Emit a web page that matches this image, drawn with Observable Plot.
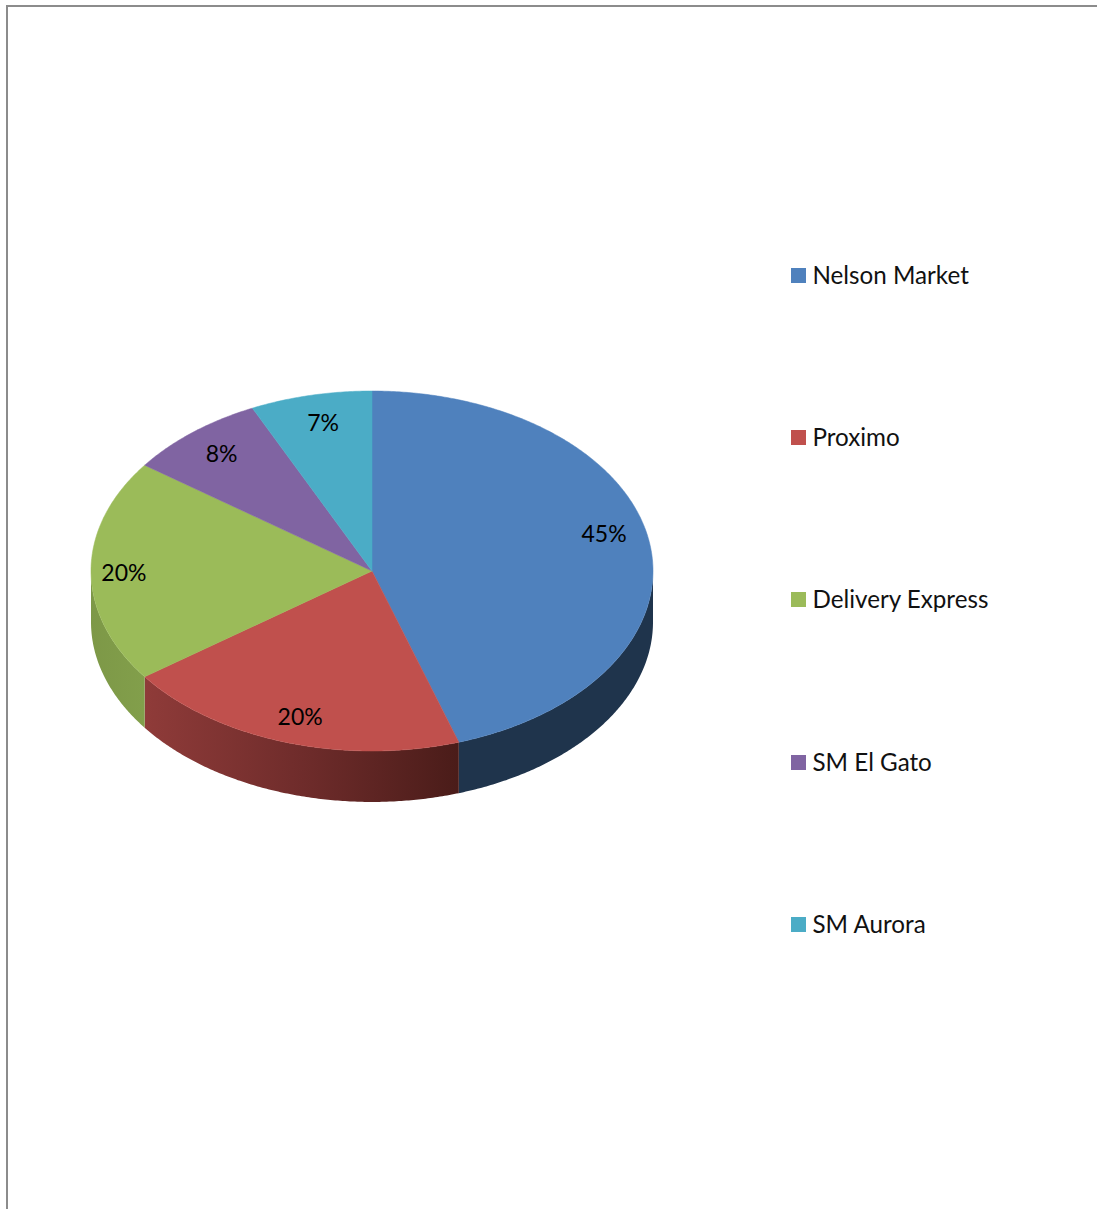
<!DOCTYPE html>
<html>
<head>
<meta charset="utf-8">
<script src="https://cdn.jsdelivr.net/npm/d3@7"></script>
<script src="https://cdn.jsdelivr.net/npm/@observablehq/plot@0.6"></script>
<style>
  html, body { margin: 0; padding: 0; background: #fff; overflow: hidden; }
  #chart { position: relative; width: 1097px; height: 1209px; font-family: Lato, "Open Sans", sans-serif; }
  #chart svg { display: block; position: absolute; left: 0; top: 0; }
  #legend { position: absolute; left: 791px; top: 194.5px; }
  .entry { display: flex; align-items: center; height: 162.2px; font-size: 24.2px; color: #111; white-space: nowrap; }
  .entry .name { position: relative; top: -1px; }
  .swatch { width: 15px; height: 15px; margin-right: 6.5px; flex: none; }
</style>
</head>
<body>
<div id="chart"></div>
<script>
// Shares of each delivery service, clockwise from twelve o'clock.
const names = ["Nelson Market", "Proximo", "Delivery Express", "SM El Gato", "SM Aurora"];
const shares = [45, 20, 20, 8, 7];
const colors = ["#4F81BD", "#C0504D", "#9BBB59", "#8064A2", "#4BACC6"];

// Hand placement of the percent labels relative to the radial default, in disc units.
const labelNudgeX = [-0.004, 0.004, -0.043, 0, 0.009];
const labelNudgeY = [0.069, -0.018, -0.017, 0, 0];

const labelRadius = 0.84;
const wallDepth = 0.283; // thickness of the disc, in disc units
const TAU = Math.PI * 2;

const rim = (t) => ({x: Math.sin(t), y: Math.cos(t)});
const arc = (a, b) => {
  const n = Math.max(2, Math.ceil(Math.abs(b - a) / (TAU / 720)));
  return d3.range(n + 1).map((i) => rim(a + (b - a) * i / n));
};

// Cumulative sweep of each slice.
let running = 0;
const slices = names.map((name, i) => {
  const start = running / 100 * TAU;
  running += shares[i];
  const end = running / 100 * TAU;
  return {name, share: shares[i], start, end, mid: (start + end) / 2, i};
});

// Top face: one closed polygon per slice.
const topFace = slices.flatMap((s) =>
  [{x: 0, y: 0}, ...arc(s.start, s.end), {x: 0, y: 0}].map((p) => ({...p, name: s.name}))
);

// Outer wall: only the half of the rim that faces the viewer.
const wall = (s) => {
  const a = Math.max(s.start, TAU / 4), b = Math.min(s.end, TAU * 3 / 4);
  if (a >= b) return [];
  const upper = arc(a, b);
  const lower = arc(b, a).map((p) => ({x: p.x, y: p.y - wallDepth}));
  return [...upper, ...lower, upper[0]];
};

const labels = slices.map((s) => ({
  text: `${s.share}%`,
  x: rim(s.mid).x * labelRadius + labelNudgeX[s.i],
  y: rim(s.mid).y * labelRadius + labelNudgeY[s.i]
}));

// Shaded wall paint, defined once in the SVG.
const wallPaint = () => {
  const defs = d3.create("svg:defs");
  const gradient = (id, stops) => {
    const g = defs.append("linearGradient").attr("id", id).attr("x1", 0).attr("x2", 1).attr("y1", 0).attr("y2", 0);
    stops.forEach(([o, c]) => g.append("stop").attr("offset", o).attr("stop-color", c));
  };
  gradient("wall-red", [[0, "#8F3B39"], [0.5, "#6F2C2B"], [1, "#4A1C19"]]);
  gradient("wall-green", [[0, "#7D9847"], [1, "#829F4B"]]);
  return defs.node();
};

const wallFill = {"Nelson Market": "#1F344C", "Proximo": "url(#wall-red)", "Delivery Express": "url(#wall-green)"};

const plot = Plot.plot({
  width: 1097,
  height: 1209,
  marginLeft: 6.5,
  marginTop: 5.5,
  marginRight: 0,
  marginBottom: 0,
  style: {background: "#fff"},
  x: {axis: null, domain: [-1, 1], range: [90.5, 652.5]},
  y: {axis: null, domain: [-1, 1], range: [750.5, 390.5]},
  color: {domain: names, range: colors},
  marks: [
    wallPaint,
    Plot.frame({anchor: "left", stroke: "#8C8C8C", strokeWidth: 2}),
    Plot.frame({anchor: "top", stroke: "#8C8C8C", strokeWidth: 2}),
    ...slices.filter((s) => wallFill[s.name]).map((s) =>
      Plot.line(wall(s), {x: "x", y: "y", fill: wallFill[s.name], stroke: "none"})
    ),
    Plot.line(topFace, {x: "x", y: "y", z: "name", fill: "name", stroke: "name", strokeWidth: 0.5}),
    Plot.text(labels, {
      x: "x", y: "y", text: "text",
      fontSize: 23, fontFamily: "Lato, 'Open Sans', sans-serif",
      fill: "#000", textAnchor: "middle", lineAnchor: "middle"
    })
  ]
});

const chart = document.getElementById("chart");
chart.appendChild(plot);

// Legend column to the right of the disc.
const legend = d3.select(chart).append("div").attr("id", "legend");
names.forEach((name, i) => {
  const row = legend.append("div").attr("class", "entry");
  row.append("span").attr("class", "swatch").style("background", colors[i]);
  row.append("span").attr("class", "name").text(name);
});
</script>
</body>
</html>
